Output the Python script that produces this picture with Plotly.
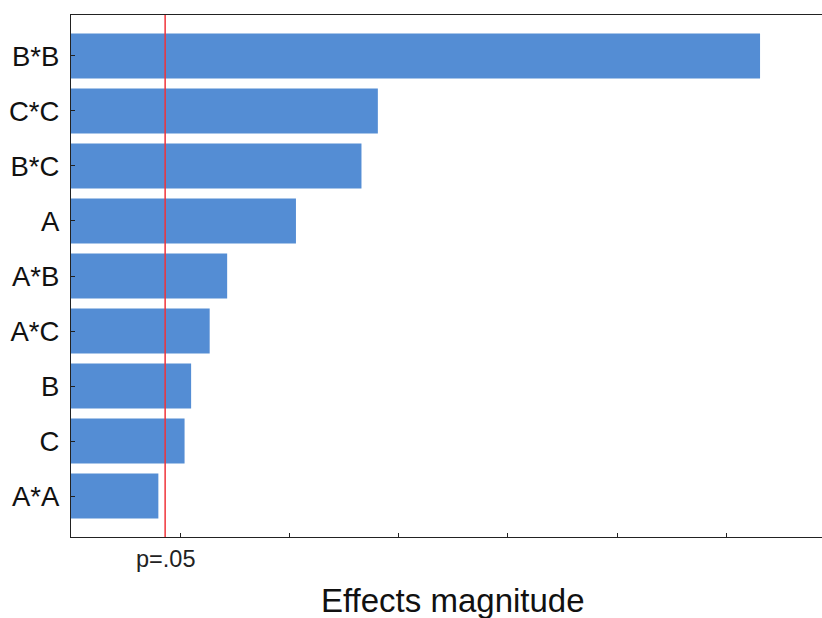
import plotly.graph_objects as go

factors = ["B*B", "C*C", "B*C", "A", "A*B", "A*C", "B", "C", "A*A"]
effects = [6.31, 2.81, 2.66, 2.06, 1.43, 1.27, 1.10, 1.04, 0.80]
p_crit = 0.862
x_ticks = [1, 2, 3, 4, 5, 6]

fig = go.Figure(go.Bar(
    x=effects, y=factors, orientation="h",
    marker=dict(color="#548dd4", line=dict(width=0)),
    width=0.82,
))

fig.add_shape(type="line", xref="x", yref="paper", x0=p_crit, x1=p_crit, y0=0, y1=1,
              line=dict(color="#f0343a", width=1.5))

fig.add_annotation(x=p_crit, xref="x", y=-0.043, yref="paper", text="p=.05",
                   showarrow=False, xanchor="center", yanchor="middle",
                   font=dict(family="Liberation Sans, Arial", size=23.5, color="#222"))
fig.add_annotation(x=(453 - 71) / 751, xref="paper", y=-0.122, yref="paper",
                   text="Effects magnitude", showarrow=False,
                   xanchor="center", yanchor="middle",
                   font=dict(family="Liberation Sans, Arial", size=33, color="#111"))

fig.update_layout(
    width=822, height=618,
    margin=dict(l=71, r=0, t=15, b=81),
    plot_bgcolor="white", paper_bgcolor="white",
    showlegend=False,
    xaxis=dict(range=[0, 751 / 109.2], tickvals=x_ticks, ticktext=[""] * len(x_ticks),
               ticks="inside", ticklen=4, tickcolor="#222", showgrid=False, zeroline=False,
               showline=True, linecolor="#222", linewidth=1.3, mirror=True),
    yaxis=dict(categoryorder="array", categoryarray=factors, range=[8.745, -0.745],
               ticks="inside", ticklen=4, tickcolor="#222", showgrid=False, zeroline=False,
               showline=True, linecolor="#222", linewidth=1.3, ticklabelstandoff=5,
               tickfont=dict(family="Liberation Sans, Arial", size=27.5, color="#111")),
)

fig.write_html("out.html")
